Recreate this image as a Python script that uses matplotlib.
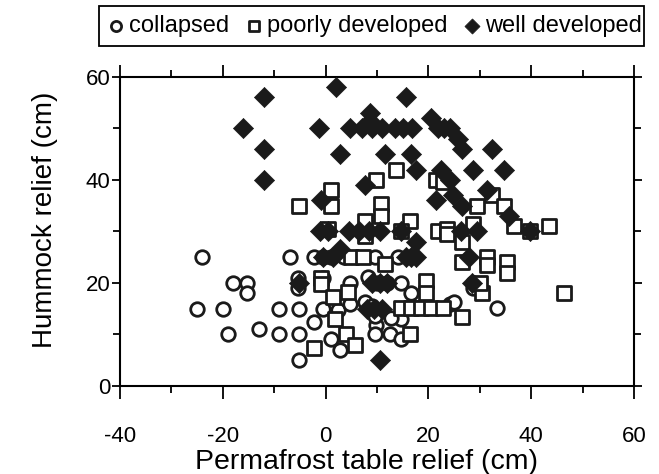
import numpy as np
import matplotlib
matplotlib.use("Agg")
import matplotlib.pyplot as plt
from matplotlib.patches import Rectangle
from matplotlib.ticker import MultipleLocator

plt.rcParams['font.family'] = ['Liberation Sans', 'DejaVu Sans']
plt.rcParams['axes.unicode_minus'] = False

# collapsed hummocks (circles)
collapsed_x = [-24, -18.1, -15.3, -15.3, -25, -20, -9, -19, -13, -9,
               -7, -5.4, -5.4, -5.2, -5.2, -5.2,
               -2.3, -0.4, 1, 3.5, 9.7, 14,
               -0.4, 4.8, 8.3, 10, 12, 14.7, 16.6,
               -0.4, 2.5, 4.8, 7.7, 9, 11,
               -2.3, 9.8, 9.7, 14.7, 12.7,
               1, 9.7, 12.5, 14.7, 2.9,
               24.3, 25, 28.6, 28.6, 33.4]
collapsed_y = [25, 20, 20, 18, 15, 15, 15, 10, 11, 10,
               25, 21, 19, 15, 10, 5,
               25, 25, 25, 25, 25, 25,
               21, 20, 21.2, 20, 20, 20, 18,
               15, 14.8, 15.8, 16.2, 15.5, 14.5,
               12.3, 11.9, 13.5, 12.9, 13.2,
               9, 10, 10, 9, 7,
               15.8, 16.2, 20, 19, 15.2]

# poorly developed hummocks (open squares)
poorly_x = [-5.2, 1, 1, 7.7, 7.7, 10.8, 10.8, 9.8, 13.7, 16.4,
            21.4, 22.8, 29.5, 32.4, 34.7, 36.7, 43.4, 39.8,
            21.8, 23.7, 23.7, 28.6, 26.6, 14.7, 0.5,
            26.6, 31.5, 31.5, 35.3, 35.3,
            19.5, 19.5, 30.5, 46.3, 26.6, 30,
            5, 7.3, 11.6,
            -0.8, -0.8, 1.5, 4.4,
            14.7, 16.6, 18.5, 20.5, 22.8,
            1.9, 3.9, 5.8, -2.3, 16.4]
poorly_y = [35, 38, 35, 32, 29, 35.3, 33, 40, 42, 32,
            40, 39.5, 35, 37, 35, 31, 31, 30,
            30, 30.5, 29.5, 31.4, 28, 30, 30.5,
            24, 25, 23.5, 24, 22,
            20.3, 18, 18, 18, 13.3, 20,
            25, 25, 23.6,
            21, 19.7, 17.2, 18.3,
            15.2, 15.2, 15.2, 15.2, 15.2,
            12.9, 10, 8, 7.4, 10]

# well developed hummocks (filled diamonds)
well_x = [-16, -12, -12, -12,
          2, 15.6,
          -1.2, 4.8, 8.7, 8.7, 7, 9, 11, 13.5, 15, 16.8,
          20.5, 21.8, 23, 24.3, 25.7, 26.6, 32.4,
          2.9, 11.6, 16.6,
          17.6, 22.4, 28.6, 34.7,
          24.3, 7.7, 31.5, -0.8, 21.4, 24.7, 26.6, 35.7,
          39.8,
          -1, 0.5, 4.5, 6.5, 8.5, 10.5, 14.7, 26.3, 29.5,
          17.6, 2.9,
          -0.5, 1.5, 15.6, 16.6, 17.6, 28,
          -5.2, 9, 10.5, 12, 28.4,
          8, 9.5, 11,
          10.6]
well_y = [50, 56, 46, 40,
          58, 56,
          50, 50, 53, 51.5, 50, 50, 50, 50, 50, 50,
          52, 50, 50, 50, 48, 46, 46,
          45, 45, 45,
          42, 42, 42, 42,
          40, 39, 38, 36, 36, 37, 35, 33,
          30,
          30, 30, 30, 30, 30, 30, 30, 30, 30,
          28, 26.5,
          25, 25, 25, 25, 25, 25,
          20, 20, 20, 20, 20,
          15, 15, 15,
          5]

fig = plt.figure(figsize=(6.59, 4.74), dpi=100)
ax = fig.add_axes([0.182, 0.186, 0.780, 0.652])

ax.scatter(collapsed_x, collapsed_y, s=95, marker='o', facecolors='white',
           edgecolors='#1a1a1a', linewidths=2.0, label='collapsed', zorder=3)
ax.scatter(poorly_x, poorly_y, s=95, marker='s', facecolors='white',
           edgecolors='#1a1a1a', linewidths=2.0, label='poorly developed', zorder=3)
ax.scatter(well_x, well_y, s=105, marker='D', facecolors='#1a1a1a',
           edgecolors='#1a1a1a', linewidths=0.5, label='well developed', zorder=3)

ax.set_xlim(-40, 60)
ax.set_ylim(0, 60)
ax.xaxis.set_major_locator(MultipleLocator(20))
ax.xaxis.set_minor_locator(MultipleLocator(10))
ax.yaxis.set_major_locator(MultipleLocator(20))
ax.yaxis.set_minor_locator(MultipleLocator(10))

ax.tick_params(which='both', direction='out', top=True, right=True, width=1.3)
ax.tick_params(which='major', length=9, labelsize=16)
ax.tick_params(which='minor', length=5)
ax.tick_params(axis='x', which='major', pad=20)
ax.tick_params(axis='y', which='major', length=6, pad=1)

for sp in ax.spines.values():
    sp.set_linewidth(1.5)

ax.set_xlabel('Permafrost table relief (cm)', fontsize=20.5, va='center')
ax.xaxis.set_label_coords(0.48, -0.246)
ax.set_ylabel('Hummock relief (cm)', fontsize=20, va='center')
ax.yaxis.set_label_coords(-0.146, 0.537)

# legend text row, with its box drawn as a plain rectangle
leg = fig.legend(*ax.get_legend_handles_labels(), loc='center',
                 bbox_to_anchor=(375.5 / 659, 1 - 26 / 474), ncol=3,
                 frameon=False, fontsize=17, handletextpad=0.25,
                 columnspacing=0.75, borderpad=0.0, markerscale=0.75,
                 handlelength=0.6)
fig.patches.append(Rectangle((99 / 659, 1 - 46 / 474), 545 / 659, 40 / 474,
                             transform=fig.transFigure, fill=False,
                             edgecolor='black', linewidth=1.3))

fig.savefig('out.png', dpi=100)
